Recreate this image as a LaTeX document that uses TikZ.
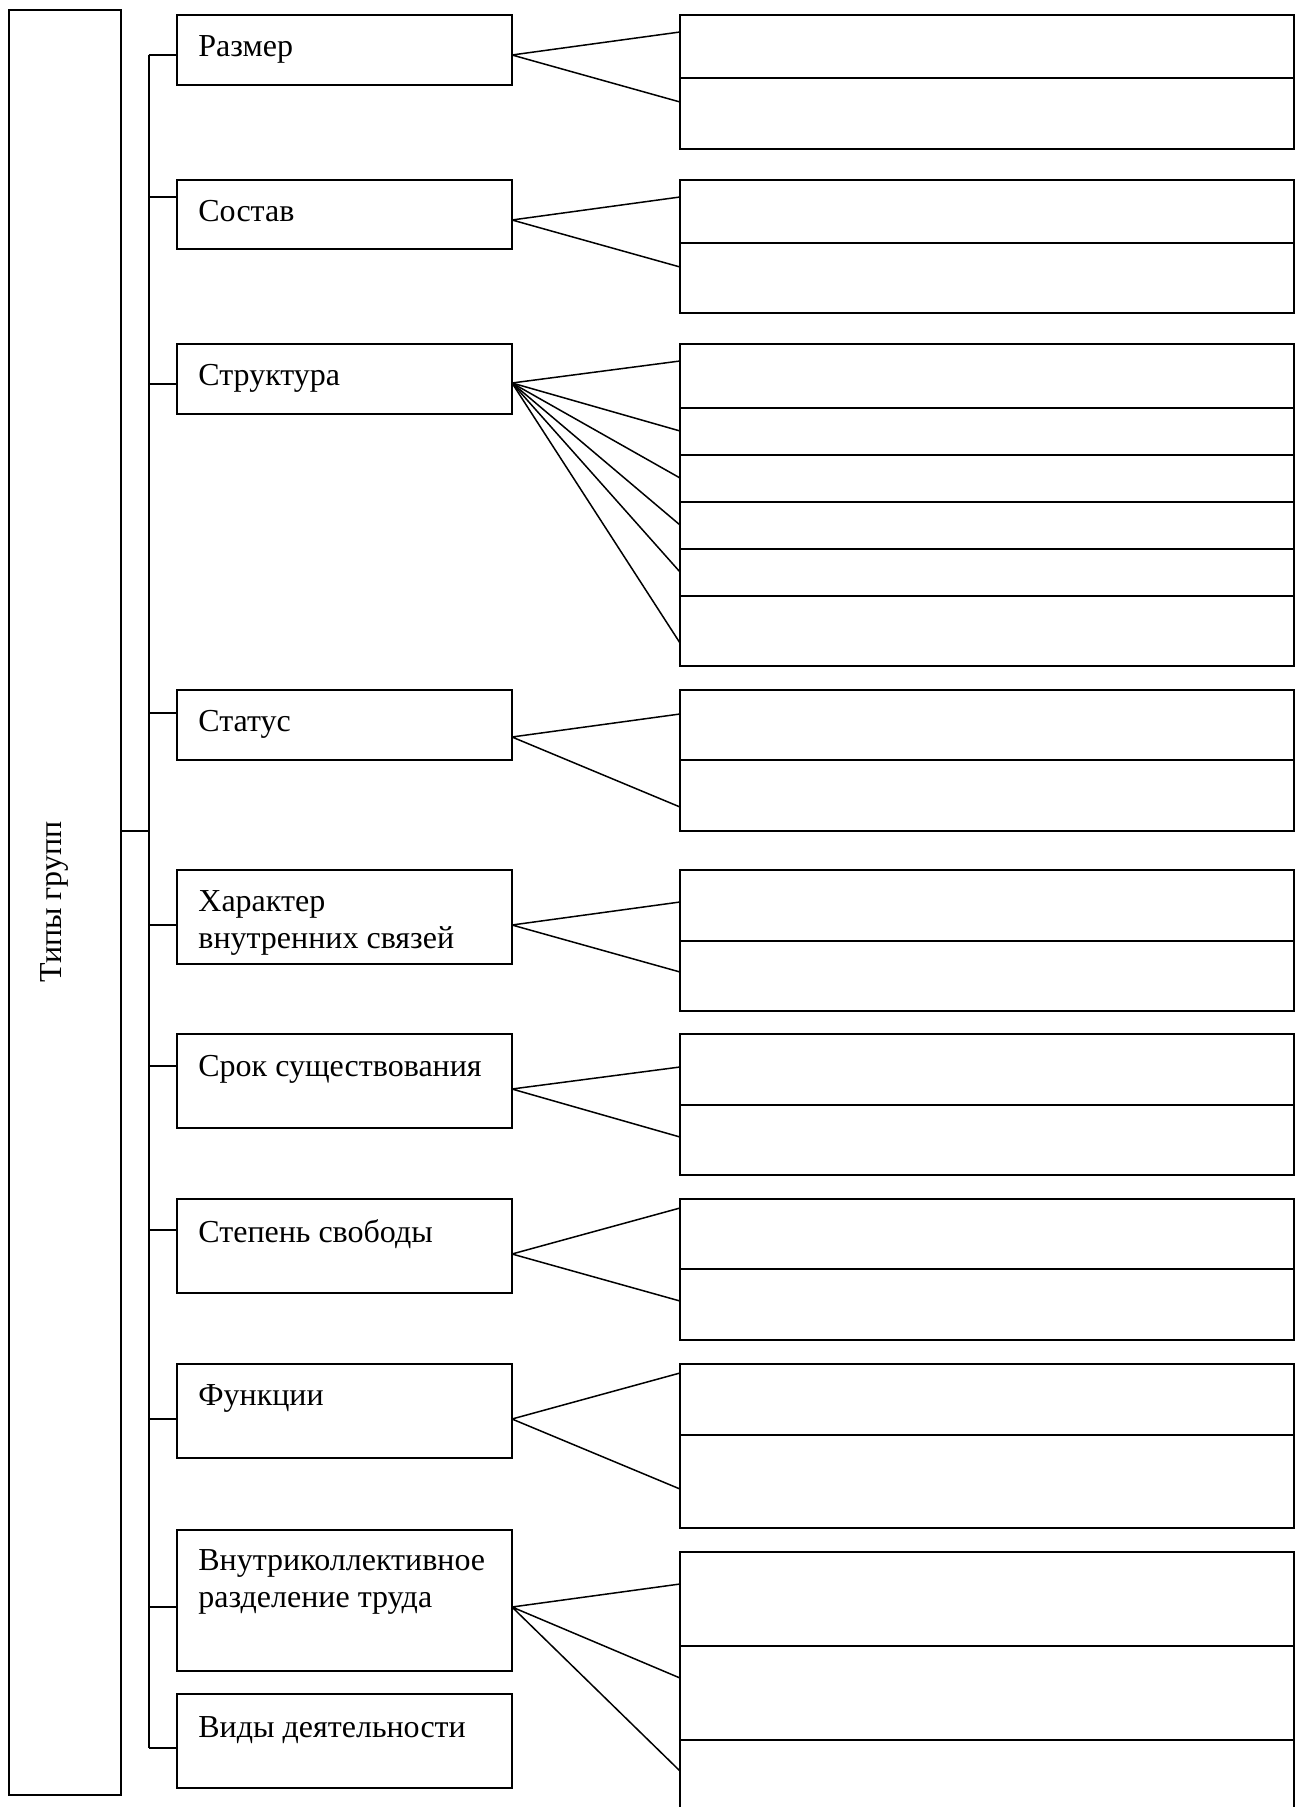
\documentclass[tikz,border=0pt]{standalone}
\usepackage{fontspec}
\setmainfont{Liberation Serif}
\usetikzlibrary{fit}
\begin{document}
\begin{tikzpicture}[x=0.5pt,y=-0.5pt,
  box/.style={draw=black, line width=1pt, inner sep=0pt, fill=none},
  lbl/.style={anchor=north west, inner sep=0pt, align=left, font=\fontsize{16}{18.4}\selectfont},
  fan/.style={draw=black, line width=0.75pt},
  tick/.style={draw=black, line width=1pt}]
\clip (0,0) rectangle (1300,1807);
\fill[white] (0,0) rectangle (1300,1807);

% outer box
\node[box, fit={(9,10)(121,1795)}] (outer) {};
\node[rotate=90, anchor=base, inner sep=0pt, font=\fontsize{16}{18.4}\selectfont] (title) at (61,902) {Типы групп};

% left boxes
\node[box, fit={(177,15)(512,85)}] (b1) {};
\node[box, fit={(177,180)(512,249)}] (b2) {};
\node[box, fit={(177,344)(512,414)}] (b3) {};
\node[box, fit={(177,690)(512,760)}] (b4) {};
\node[box, fit={(177,870)(512,964)}] (b5) {};
\node[box, fit={(177,1034)(512,1128)}] (b6) {};
\node[box, fit={(177,1199)(512,1293)}] (b7) {};
\node[box, fit={(177,1364)(512,1458)}] (b8) {};
\node[box, fit={(177,1530)(512,1671)}] (b9) {};
\node[box, fit={(177,1694)(512,1788)}] (b10) {};

% labels
\node[lbl] (t1) at (198,35) {Размер};
\node[lbl] (t2) at (198,200) {Состав};
\node[lbl] (t3) at (198,364) {Структура};
\node[lbl] (t4) at (198,710) {Статус};
\node[lbl] (t5) at (198,890) {Характер\\внутренних связей};
\node[lbl] (t6) at (198,1055) {Срок существования};
\node[lbl] (t7) at (198,1219) {Степень свободы};
\node[lbl] (t8) at (198,1384) {Функции};
\node[lbl] (t9) at (198,1549) {Внутриколлективное\\разделение труда};
\node[lbl] (t10) at (198,1716) {Виды деятельности};

% bracket
\coordinate (k1) at (148.7,55);
\coordinate (k2) at (148.7,197);
\coordinate (k3) at (148.7,384);
\coordinate (k4) at (148.7,713);
\coordinate (k5) at (148.7,925);
\coordinate (k6) at (148.7,1066);
\coordinate (k7) at (148.7,1230);
\coordinate (k8) at (148.7,1419);
\coordinate (k9) at (148.7,1607);
\coordinate (k10) at (148.7,1748);
\coordinate (km) at (148.7,831);
\draw[tick] (k1) -- (k10);
\draw[tick] (km -| outer.east) -- (km);
\foreach \i in {1,...,10}{
  \draw[tick] (k\i) -- (k\i -| b\i.west);
}

% right boxes
\node[box, fit={(680,15)(1294,78)}] (r1a) {};
\node[box, fit={(680,78)(1294,149)}] (r1b) {};
\node[box, fit={(680,180)(1294,243)}] (r2a) {};
\node[box, fit={(680,243)(1294,313)}] (r2b) {};
\node[box, fit={(680,344)(1294,408)}] (r3a) {};
\node[box, fit={(680,408)(1294,455)}] (r3b) {};
\node[box, fit={(680,455)(1294,502)}] (r3c) {};
\node[box, fit={(680,502)(1294,549)}] (r3d) {};
\node[box, fit={(680,549)(1294,596)}] (r3e) {};
\node[box, fit={(680,596)(1294,666)}] (r3f) {};
\node[box, fit={(680,690)(1294,760)}] (r4a) {};
\node[box, fit={(680,760)(1294,831)}] (r4b) {};
\node[box, fit={(680,870)(1294,941)}] (r5a) {};
\node[box, fit={(680,941)(1294,1011)}] (r5b) {};
\node[box, fit={(680,1034)(1294,1105)}] (r6a) {};
\node[box, fit={(680,1105)(1294,1175)}] (r6b) {};
\node[box, fit={(680,1199)(1294,1269)}] (r7a) {};
\node[box, fit={(680,1269)(1294,1340)}] (r7b) {};
\node[box, fit={(680,1364)(1294,1435)}] (r8a) {};
\node[box, fit={(680,1435)(1294,1528)}] (r8b) {};
\node[box, fit={(680,1552)(1294,1646)}] (r9a) {};
\node[box, fit={(680,1646)(1294,1740)}] (r9b) {};
\node[box, fit={(680,1740)(1294,1840)}] (r9c) {};

% fan origins
\coordinate (f1) at (512,55);
\coordinate (f2) at (512,220);
\coordinate (f3) at (512,383);
\coordinate (f4) at (512,737);
\coordinate (f5) at (512,925);
\coordinate (f6) at (512,1089);
\coordinate (f7) at (512,1254);
\coordinate (f8) at (512,1419);
\coordinate (f9) at (512,1607);

% fan ends
\coordinate (e1a) at (680,32);   \coordinate (e1b) at (680,102);
\coordinate (e2a) at (680,197);  \coordinate (e2b) at (680,267);
\coordinate (e3a) at (680,361);  \coordinate (e3b) at (680,431);
\coordinate (e3c) at (680,478);  \coordinate (e3d) at (680,525);
\coordinate (e3e) at (680,572);  \coordinate (e3f) at (680,643);
\coordinate (e4a) at (680,714);  \coordinate (e4b) at (680,807);
\coordinate (e5a) at (680,902);  \coordinate (e5b) at (680,972);
\coordinate (e6a) at (680,1067); \coordinate (e6b) at (680,1137);
\coordinate (e7a) at (680,1208); \coordinate (e7b) at (680,1301);
\coordinate (e8a) at (680,1373); \coordinate (e8b) at (680,1489);
\coordinate (e9a) at (680,1584); \coordinate (e9b) at (680,1678);
\coordinate (e9c) at (680,1771);

\draw[fan] (f1) -- (e1a) (f1) -- (e1b);
\draw[fan] (f2) -- (e2a) (f2) -- (e2b);
\foreach \s in {a,b,c,d,e,f}{ \draw[fan] (f3) -- (e3\s); }
\draw[fan] (f4) -- (e4a) (f4) -- (e4b);
\draw[fan] (f5) -- (e5a) (f5) -- (e5b);
\draw[fan] (f6) -- (e6a) (f6) -- (e6b);
\draw[fan] (f7) -- (e7a) (f7) -- (e7b);
\draw[fan] (f8) -- (e8a) (f8) -- (e8b);
\draw[fan] (f9) -- (e9a) (f9) -- (e9b) (f9) -- (e9c);
\end{tikzpicture}
\end{document}
